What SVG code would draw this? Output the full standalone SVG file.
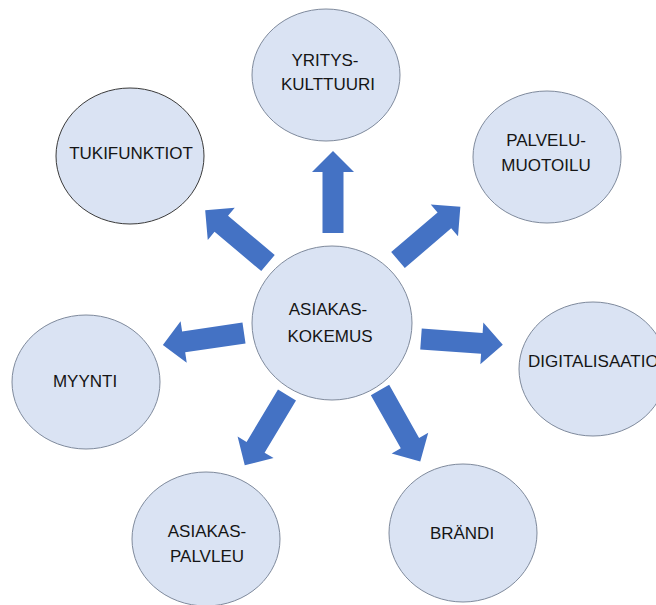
<svg xmlns="http://www.w3.org/2000/svg" xmlns:xlink="http://www.w3.org/1999/xlink" width="656" height="605" viewBox="0 0 656 605">
  <style>
    .bubble { fill: #DAE3F3; stroke: #7F8A9C; stroke-width: 1; }
    .bubble.dark { stroke: #3A3A3A; }
    .label { font-family: "Liberation Sans", Arial, sans-serif; font-size: 17px; fill: #151515; text-anchor: middle; }
    .arrow { fill: #4472C4; }
  </style>
  <defs>
    <!-- block arrow pointing along +x, tail at origin -->
    <polygon id="blockArrow" points="0,-10.5 61,-10.5 61,-21 82,0 61,21 61,10.5 0,10.5"/>
  </defs>

  <rect width="656" height="605" fill="#FFFFFF"/>

  <g id="connectors" class="arrow">
    <use xlink:href="#blockArrow" transform="translate(333,233) rotate(-90)"/>
    <use xlink:href="#blockArrow" transform="translate(268,263) rotate(220)"/>
    <use xlink:href="#blockArrow" transform="translate(398,260) rotate(-40.5)"/>
    <use xlink:href="#blockArrow" transform="translate(244,333) rotate(171.6)"/>
    <use xlink:href="#blockArrow" transform="translate(421,339) rotate(4.1)"/>
    <use xlink:href="#blockArrow" transform="translate(287,395) rotate(121)"/>
    <use xlink:href="#blockArrow" transform="translate(380,390) rotate(60.6)"/>
  </g>

  <g id="node-yrityskulttuuri">
    <ellipse class="bubble" cx="326" cy="75" rx="74" ry="66"/>
    <text class="label" x="325" y="66">YRITYS-</text>
    <text class="label" x="328" y="90">KULTTUURI</text>
  </g>

  <g id="node-tukifunktiot">
    <ellipse class="bubble dark" cx="130" cy="156" rx="74" ry="68"/>
    <text class="label" x="131" y="159">TUKIFUNKTIOT</text>
  </g>

  <g id="node-palvelumuotoilu">
    <ellipse class="bubble" cx="547" cy="157" rx="74" ry="66"/>
    <text class="label" x="546" y="146">PALVELU-</text>
    <text class="label" x="546" y="171">MUOTOILU</text>
  </g>

  <g id="node-asiakaskokemus">
    <ellipse class="bubble" cx="332" cy="323" rx="80" ry="77"/>
    <text class="label" x="328" y="315">ASIAKAS-</text>
    <text class="label" x="330" y="342">KOKEMUS</text>
  </g>

  <g id="node-myynti">
    <ellipse class="bubble" cx="86" cy="382" rx="74" ry="67"/>
    <text class="label" x="85" y="387">MYYNTI</text>
  </g>

  <g id="node-digitalisaatio">
    <ellipse class="bubble" cx="593" cy="369" rx="74" ry="67"/>
    <text class="label" x="528" y="367" style="text-anchor:start">DIGITALISAATIO</text>
  </g>

  <g id="node-asiakaspalvleu">
    <ellipse class="bubble" cx="206" cy="539" rx="74" ry="67"/>
    <text class="label" x="207" y="537">ASIAKAS-</text>
    <text class="label" x="207" y="562">PALVLEU</text>
  </g>

  <g id="node-brandi">
    <ellipse class="bubble" cx="463" cy="533" rx="74" ry="69"/>
    <text class="label" x="462" y="539">BRÄNDI</text>
  </g>
</svg>
